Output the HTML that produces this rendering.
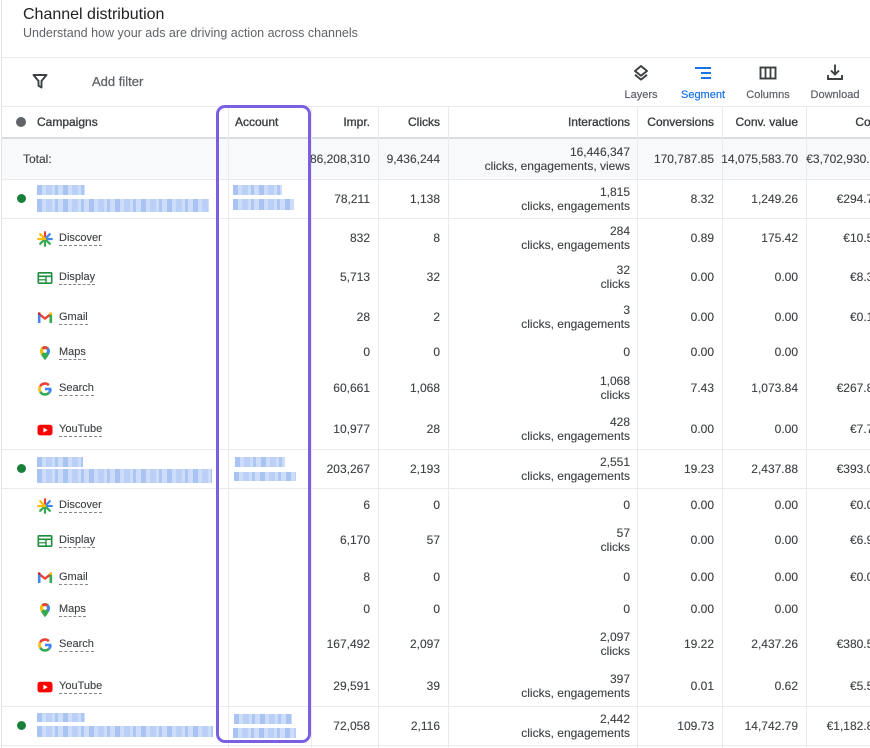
<!DOCTYPE html>
<html><head><meta charset="utf-8">
<style>
*{box-sizing:border-box}
body{margin:0;width:870px;height:748px;overflow:hidden;position:relative;background:#fff;font-family:"Liberation Sans",Arial,sans-serif;color:#3c4043}
.a{position:absolute}
.hl{position:absolute;left:2px;width:868px;height:1px;background:#e8eaed}
.vl{position:absolute;top:107px;height:641px;width:1px;background:#e8eaed}
.row{position:absolute;left:0;width:900px}
.c{position:absolute;top:0;height:100%;display:flex;flex-direction:column;justify-content:center;align-items:flex-end;font-size:12px;line-height:14px;white-space:nowrap;-webkit-text-stroke:0.12px #3c4043}
.c1{left:312px;width:58px}
.c2{left:378px;width:62px}
.c3{left:448px;width:182px}
.c4{left:637px;width:77px}
.c5{left:722px;width:76px}
.c6{left:806px;width:74px}
.hd .c{color:#3c4043;-webkit-text-stroke:0.35px #3c4043}
.ch{position:absolute;left:37px;top:50%;margin-top:-7px;height:16px;display:flex;align-items:center}
.ch svg{width:16px;height:16px;flex:none}
.ch span{margin-left:6px;font-size:11px;line-height:13px;border-bottom:1px dashed #80868b;color:#3c4043;-webkit-text-stroke:0.12px #3c4043}
.dot{position:absolute;left:16.5px;top:50%;margin-top:-4.5px;width:9px;height:9px;border-radius:50%;background:#188038}
.bl{position:absolute;background-color:#cddcf8;background-image:repeating-linear-gradient(90deg,rgba(110,155,235,.38) 0 5px,transparent 5px 9px,rgba(140,175,240,.28) 9px 15px,transparent 15px 18px,rgba(100,150,235,.3) 18px 21px,transparent 21px 26px)}
.tl{position:absolute;font-size:11px;line-height:12px;color:#5f6368;text-align:center;width:70px;-webkit-text-stroke:0.2px #5f6368}
</style></head><body>

<div class="a" style="left:1px;top:0;width:1px;height:748px;background:#e3e3e3"></div>

<div class="a" style="left:23px;top:6px;font-size:16px;line-height:18px;color:#202124;white-space:nowrap">Channel distribution</div>
<div class="a" style="left:23px;top:26px;font-size:12.5px;line-height:14px;color:#5f6368;white-space:nowrap">Understand how your ads are driving action across channels</div>

<div class="hl" style="top:57px"></div>

<svg class="a" style="left:31px;top:72px" width="18" height="18" viewBox="0 0 18 18"><path d="M2.5 3h13l-5 6v6.5l-3-1.8V9z" fill="none" stroke="#3c4043" stroke-width="1.9" stroke-linejoin="round"/></svg>
<div class="a" style="left:92px;top:74px;font-size:13px;line-height:15px;color:#5f6368;white-space:nowrap;-webkit-text-stroke:0.25px #5f6368">Add filter</div>

<svg class="a" style="left:632px;top:64px" width="18" height="18" viewBox="0 0 18 18"><path d="M9 2L3 7l6 4.8L15 7z" fill="none" stroke="#3c4043" stroke-width="1.9" stroke-linejoin="round"/><path d="M3 10.8l6 4.8 6-4.8" fill="none" stroke="#3c4043" stroke-width="1.9" stroke-linejoin="round"/></svg>
<svg class="a" style="left:694px;top:64px" width="18" height="18" viewBox="0 0 18 18"><g stroke="#1a73e8" stroke-width="2"><line x1="1" y1="4" x2="17" y2="4"/><line x1="7" y1="9" x2="17" y2="9"/><line x1="7" y1="14" x2="17" y2="14"/></g></svg>
<svg class="a" style="left:759px;top:64px" width="18" height="18" viewBox="0 0 18 18"><rect x="1.5" y="3.5" width="15" height="11" fill="none" stroke="#3c4043" stroke-width="1.9"/><line x1="6.5" y1="3.5" x2="6.5" y2="14.5" stroke="#3c4043" stroke-width="1.8"/><line x1="11.5" y1="3.5" x2="11.5" y2="14.5" stroke="#3c4043" stroke-width="1.8"/></svg>
<svg class="a" style="left:826px;top:63px" width="18" height="18" viewBox="0 0 18 18"><line x1="9" y1="1.5" x2="9" y2="11" stroke="#3c4043" stroke-width="1.9"/><path d="M5 7.5l4 4 4-4" fill="none" stroke="#3c4043" stroke-width="1.9"/><path d="M2 12v4h14v-4" fill="none" stroke="#3c4043" stroke-width="1.9"/></svg>

<div class="tl" style="left:606px;top:89px">Layers</div>
<div class="tl" style="left:668px;top:89px;color:#1a73e8;-webkit-text-stroke:0.2px #1a73e8">Segment</div>
<div class="tl" style="left:733px;top:89px">Columns</div>
<div class="tl" style="left:800px;top:89px">Download</div>

<div class="hl" style="top:106px"></div>

<!-- total row bg -->
<div class="a" style="left:2px;top:139px;width:868px;height:40px;background:#f8f9fa"></div>
<div class="a" style="left:2px;top:137px;width:868px;height:2px;background:#dadce0"></div>

<!-- vertical lines -->
<div class="vl" style="left:228px"></div>
<div class="vl" style="left:311px"></div>
<div class="vl" style="left:378px"></div>
<div class="vl" style="left:448px"></div>
<div class="vl" style="left:637px"></div>
<div class="vl" style="left:722px"></div>
<div class="vl" style="left:806px"></div>

<!-- horizontal lines -->
<div class="hl" style="top:179px"></div>
<div class="hl" style="top:218px"></div>
<div class="hl" style="top:449px"></div>
<div class="hl" style="top:488px"></div>
<div class="hl" style="top:706px"></div>
<div class="hl" style="top:745px"></div>

<!-- header -->
<div class="row hd" style="top:107px;height:30px">
<div class="dot" style="background:#5f6368;width:10px;height:10px;margin-top:-5px;left:16px"></div>
<div class="c" style="left:37px;align-items:flex-start">Campaigns</div>
<div class="c" style="left:235px;align-items:flex-start">Account</div>
<div class="c c1">Impr.</div>
<div class="c c2">Clicks</div>
<div class="c c3">Interactions</div>
<div class="c c4">Conversions</div>
<div class="c c5">Conv. value</div>
<div class="c c6">Cost</div>
</div>

<!-- total -->
<div class="row" style="top:139px;height:40px">
<div class="c" style="left:23px;align-items:flex-start">Total:</div>
<div class="c c1">86,208,310</div>
<div class="c c2">9,436,244</div>
<div class="c c3"><div>16,446,347</div><div>clicks, engagements, views</div></div>
<div class="c c4">170,787.85</div>
<div class="c c5">14,075,583.70</div>
<div class="c c6" style="width:77px">€3,702,930.12</div>
</div>

<!-- campaign 1 -->
<div class="row" style="top:179px;height:39px">
<div class="dot"></div>
<div class="c c1">78,211</div>
<div class="c c2">1,138</div>
<div class="c c3"><div>1,815</div><div>clicks, engagements</div></div>
<div class="c c4">8.32</div>
<div class="c c5">1,249.26</div>
<div class="c c6">€294.71</div>
</div>
<div class="bl" style="left:37px;top:185px;width:48px;height:10px"></div>
<div class="bl" style="left:37px;top:199px;width:172px;height:13px"></div>
<div class="bl" style="left:233px;top:185px;width:49px;height:10px"></div>
<div class="bl" style="left:233px;top:199px;width:61px;height:11px"></div>

<!-- sub rows 1 -->
<div class="row" style="top:218px;height:39px">
<div class="ch"><svg viewBox="0 0 16 16"><g stroke-width="2.2" stroke-linecap="round"><line x1="8" y1="8" x2="8" y2="1.2" stroke="#ea4335"/><line x1="8" y1="8" x2="12.8" y2="3.2" stroke="#4285f4"/><line x1="8" y1="8" x2="14.8" y2="8" stroke="#4285f4"/><line x1="8" y1="8" x2="12.8" y2="12.8" stroke="#34a853"/><line x1="8" y1="8" x2="8" y2="14.8" stroke="#34a853"/><line x1="8" y1="8" x2="3.2" y2="12.8" stroke="#34a853"/><line x1="8" y1="8" x2="1.2" y2="8" stroke="#fbbc04"/><line x1="8" y1="8" x2="3.2" y2="3.2" stroke="#fbbc04"/></g></svg><span>Discover</span></div>
<div class="c c1">832</div><div class="c c2">8</div>
<div class="c c3"><div>284</div><div>clicks, engagements</div></div>
<div class="c c4">0.89</div><div class="c c5">175.42</div><div class="c c6">€10.52</div>
</div>
<div class="row" style="top:257px;height:40px">
<div class="ch"><svg viewBox="0 0 16 16"><rect x="1.3" y="2.8" width="13.4" height="10.4" rx="0.8" fill="none" stroke="#1e8e3e" stroke-width="1.6"/><line x1="1.3" y1="6.3" x2="14.7" y2="6.3" stroke="#1e8e3e" stroke-width="1.6"/><line x1="9" y1="6.3" x2="9" y2="13.2" stroke="#1e8e3e" stroke-width="1.4"/><line x1="1.3" y1="9.8" x2="9" y2="9.8" stroke="#1e8e3e" stroke-width="1.2"/></svg><span>Display</span></div>
<div class="c c1">5,713</div><div class="c c2">32</div>
<div class="c c3"><div>32</div><div>clicks</div></div>
<div class="c c4">0.00</div><div class="c c5">0.00</div><div class="c c6">€8.31</div>
</div>
<div class="row" style="top:297px;height:40px">
<div class="ch"><svg viewBox="0 0 16 16"><path d="M2 4l6 4.6L14 4" fill="none" stroke="#ea4335" stroke-width="2.4" stroke-linejoin="round"/><line x1="2.2" y1="3.6" x2="2.2" y2="13" stroke="#4285f4" stroke-width="2.6"/><line x1="13.8" y1="3.6" x2="13.8" y2="13" stroke="#34a853" stroke-width="2.6"/><rect x="12.6" y="2.4" width="2.4" height="2.4" fill="#fbbc04"/><rect x="1" y="2.4" width="2.4" height="2.4" fill="#c5221f"/></svg><span>Gmail</span></div>
<div class="c c1">28</div><div class="c c2">2</div>
<div class="c c3"><div>3</div><div>clicks, engagements</div></div>
<div class="c c4">0.00</div><div class="c c5">0.00</div><div class="c c6">€0.17</div>
</div>
<div class="row" style="top:337px;height:30px">
<div class="ch"><svg viewBox="0 0 16 16"><path d="M8 1a5 5 0 0 0-5 5c0 3.6 5 9.2 5 9.2s5-5.6 5-9.2a5 5 0 0 0-5-5z" fill="#34a853"/><path d="M4.5 2.5A5 5 0 0 1 11.5 2.5L8 6z" fill="#ea4335"/><path d="M3 6a5 5 0 0 1 1.5-3.5L8 6 4 9.8C3.4 8.5 3 7.2 3 6z" fill="#fbbc04"/><path d="M11.5 2.5A5 5 0 0 1 13 6c0 1.2-.4 2.5-1 3.8L8 6z" fill="#4285f4"/><circle cx="8" cy="6" r="1.9" fill="#fff"/></svg><span>Maps</span></div>
<div class="c c1">0</div><div class="c c2">0</div>
<div class="c c3">0</div>
<div class="c c4">0.00</div><div class="c c5">0.00</div>
</div>
<div class="row" style="top:367px;height:42px">
<div class="ch"><svg viewBox="0 0 16 16"><g fill="none" stroke-width="2.6"><path d="M13.5 8A5.5 5.5 0 0 1 11.89 11.89" stroke="#4285f4"/><path d="M8 8H14.2" stroke="#4285f4"/><path d="M11.89 11.89A5.5 5.5 0 0 1 3.24 10.75" stroke="#34a853"/><path d="M3.24 10.75A5.5 5.5 0 0 1 3.24 5.25" stroke="#fbbc04"/><path d="M3.24 5.25A5.5 5.5 0 0 1 11.89 4.11" stroke="#ea4335"/></g></svg><span>Search</span></div>
<div class="c c1">60,661</div><div class="c c2">1,068</div>
<div class="c c3"><div>1,068</div><div>clicks</div></div>
<div class="c c4">7.43</div><div class="c c5">1,073.84</div><div class="c c6">€267.85</div>
</div>
<div class="row" style="top:409px;height:40px">
<div class="ch"><svg viewBox="0 0 16 16"><rect x="0.5" y="2.8" width="15" height="10.6" rx="2.6" fill="#f00"/><path d="M6.4 5.6v5l4.3-2.5z" fill="#fff"/></svg><span>YouTube</span></div>
<div class="c c1">10,977</div><div class="c c2">28</div>
<div class="c c3"><div>428</div><div>clicks, engagements</div></div>
<div class="c c4">0.00</div><div class="c c5">0.00</div><div class="c c6">€7.73</div>
</div>

<!-- campaign 2 -->
<div class="row" style="top:449px;height:39px">
<div class="dot"></div>
<div class="c c1">203,267</div>
<div class="c c2">2,193</div>
<div class="c c3"><div>2,551</div><div>clicks, engagements</div></div>
<div class="c c4">19.23</div>
<div class="c c5">2,437.88</div>
<div class="c c6">€393.02</div>
</div>
<div class="bl" style="left:37px;top:457px;width:46px;height:10px"></div>
<div class="bl" style="left:37px;top:469px;width:175px;height:14px"></div>
<div class="bl" style="left:235px;top:457px;width:50px;height:10px"></div>
<div class="bl" style="left:234px;top:472px;width:62px;height:9px"></div>

<!-- sub rows 2 -->
<div class="row" style="top:488px;height:34px">
<div class="ch"><svg viewBox="0 0 16 16"><g stroke-width="2.2" stroke-linecap="round"><line x1="8" y1="8" x2="8" y2="1.2" stroke="#ea4335"/><line x1="8" y1="8" x2="12.8" y2="3.2" stroke="#4285f4"/><line x1="8" y1="8" x2="14.8" y2="8" stroke="#4285f4"/><line x1="8" y1="8" x2="12.8" y2="12.8" stroke="#34a853"/><line x1="8" y1="8" x2="8" y2="14.8" stroke="#34a853"/><line x1="8" y1="8" x2="3.2" y2="12.8" stroke="#34a853"/><line x1="8" y1="8" x2="1.2" y2="8" stroke="#fbbc04"/><line x1="8" y1="8" x2="3.2" y2="3.2" stroke="#fbbc04"/></g></svg><span>Discover</span></div>
<div class="c c1">6</div><div class="c c2">0</div>
<div class="c c3">0</div>
<div class="c c4">0.00</div><div class="c c5">0.00</div><div class="c c6">€0.03</div>
</div>
<div class="row" style="top:522px;height:36px">
<div class="ch"><svg viewBox="0 0 16 16"><rect x="1.3" y="2.8" width="13.4" height="10.4" rx="0.8" fill="none" stroke="#1e8e3e" stroke-width="1.6"/><line x1="1.3" y1="6.3" x2="14.7" y2="6.3" stroke="#1e8e3e" stroke-width="1.6"/><line x1="9" y1="6.3" x2="9" y2="13.2" stroke="#1e8e3e" stroke-width="1.4"/><line x1="1.3" y1="9.8" x2="9" y2="9.8" stroke="#1e8e3e" stroke-width="1.2"/></svg><span>Display</span></div>
<div class="c c1">6,170</div><div class="c c2">57</div>
<div class="c c3"><div>57</div><div>clicks</div></div>
<div class="c c4">0.00</div><div class="c c5">0.00</div><div class="c c6">€6.95</div>
</div>
<div class="row" style="top:558px;height:38px">
<div class="ch"><svg viewBox="0 0 16 16"><path d="M2 4l6 4.6L14 4" fill="none" stroke="#ea4335" stroke-width="2.4" stroke-linejoin="round"/><line x1="2.2" y1="3.6" x2="2.2" y2="13" stroke="#4285f4" stroke-width="2.6"/><line x1="13.8" y1="3.6" x2="13.8" y2="13" stroke="#34a853" stroke-width="2.6"/><rect x="12.6" y="2.4" width="2.4" height="2.4" fill="#fbbc04"/><rect x="1" y="2.4" width="2.4" height="2.4" fill="#c5221f"/></svg><span>Gmail</span></div>
<div class="c c1">8</div><div class="c c2">0</div>
<div class="c c3">0</div>
<div class="c c4">0.00</div><div class="c c5">0.00</div><div class="c c6">€0.02</div>
</div>
<div class="row" style="top:596px;height:26px">
<div class="ch"><svg viewBox="0 0 16 16"><path d="M8 1a5 5 0 0 0-5 5c0 3.6 5 9.2 5 9.2s5-5.6 5-9.2a5 5 0 0 0-5-5z" fill="#34a853"/><path d="M4.5 2.5A5 5 0 0 1 11.5 2.5L8 6z" fill="#ea4335"/><path d="M3 6a5 5 0 0 1 1.5-3.5L8 6 4 9.8C3.4 8.5 3 7.2 3 6z" fill="#fbbc04"/><path d="M11.5 2.5A5 5 0 0 1 13 6c0 1.2-.4 2.5-1 3.8L8 6z" fill="#4285f4"/><circle cx="8" cy="6" r="1.9" fill="#fff"/></svg><span>Maps</span></div>
<div class="c c1">0</div><div class="c c2">0</div>
<div class="c c3">0</div>
<div class="c c4">0.00</div><div class="c c5">0.00</div>
</div>
<div class="row" style="top:622px;height:44px">
<div class="ch"><svg viewBox="0 0 16 16"><g fill="none" stroke-width="2.6"><path d="M13.5 8A5.5 5.5 0 0 1 11.89 11.89" stroke="#4285f4"/><path d="M8 8H14.2" stroke="#4285f4"/><path d="M11.89 11.89A5.5 5.5 0 0 1 3.24 10.75" stroke="#34a853"/><path d="M3.24 10.75A5.5 5.5 0 0 1 3.24 5.25" stroke="#fbbc04"/><path d="M3.24 5.25A5.5 5.5 0 0 1 11.89 4.11" stroke="#ea4335"/></g></svg><span>Search</span></div>
<div class="c c1">167,492</div><div class="c c2">2,097</div>
<div class="c c3"><div>2,097</div><div>clicks</div></div>
<div class="c c4">19.22</div><div class="c c5">2,437.26</div><div class="c c6">€380.51</div>
</div>
<div class="row" style="top:666px;height:40px">
<div class="ch"><svg viewBox="0 0 16 16"><rect x="0.5" y="2.8" width="15" height="10.6" rx="2.6" fill="#f00"/><path d="M6.4 5.6v5l4.3-2.5z" fill="#fff"/></svg><span>YouTube</span></div>
<div class="c c1">29,591</div><div class="c c2">39</div>
<div class="c c3"><div>397</div><div>clicks, engagements</div></div>
<div class="c c4">0.01</div><div class="c c5">0.62</div><div class="c c6">€5.53</div>
</div>

<!-- campaign 3 -->
<div class="row" style="top:706px;height:39px">
<div class="dot"></div>
<div class="c c1">72,058</div>
<div class="c c2">2,116</div>
<div class="c c3"><div>2,442</div><div>clicks, engagements</div></div>
<div class="c c4">109.73</div>
<div class="c c5">14,742.79</div>
<div class="c c6">€1,182.85</div>
</div>
<div class="bl" style="left:37px;top:713px;width:48px;height:9px"></div>
<div class="bl" style="left:37px;top:726px;width:176px;height:11px"></div>
<div class="bl" style="left:234px;top:714px;width:58px;height:10px"></div>
<div class="bl" style="left:233px;top:728px;width:63px;height:10px"></div>

<!-- purple highlight box -->
<div class="a" style="left:216px;top:105px;width:95px;height:638px;border:3px solid #7b5fe0;border-radius:9px"></div>

</body></html>
